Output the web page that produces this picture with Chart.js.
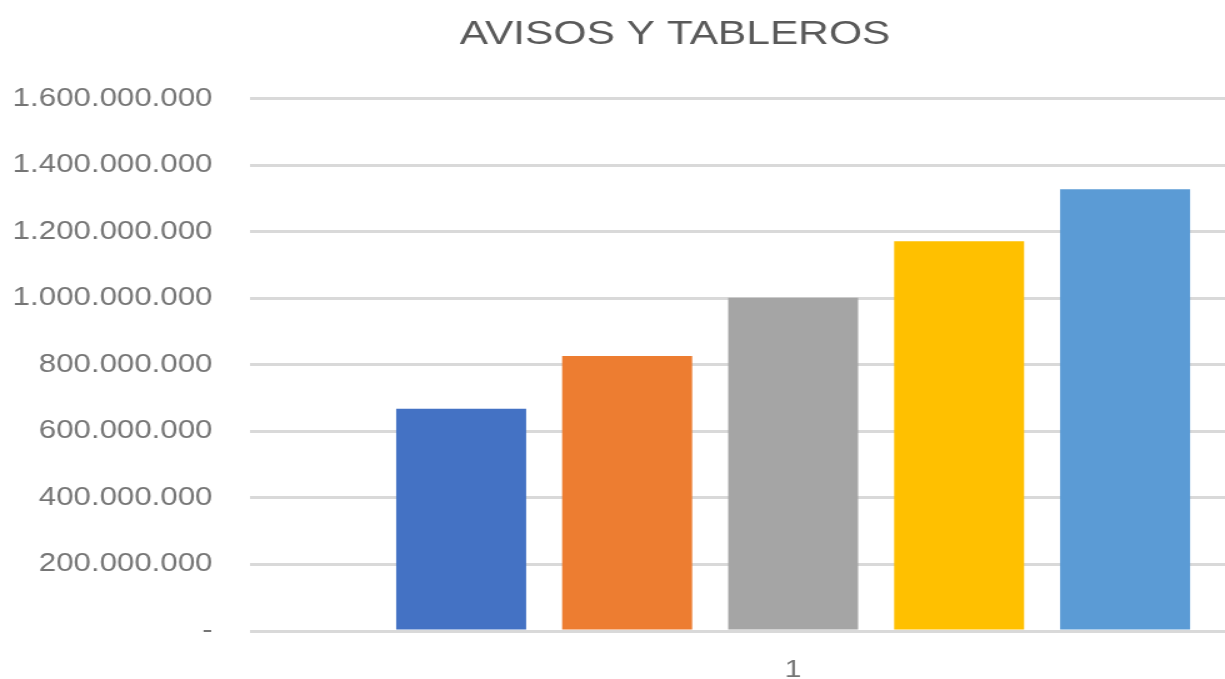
<!DOCTYPE html>
<html>
<head>
<meta charset="utf-8">
<script src="https://cdn.jsdelivr.net/npm/chart.js@4"></script>
<style>
  html, body { margin: 0; padding: 0; background: #fff; overflow: hidden; }
  /* the source picture is stretched sideways, so the chart is too */
  #wrap { width: 1080px; height: 690px; transform: scaleX(1.25); transform-origin: 0 0; }
</style>
</head>
<body>
<div id="wrap"><canvas id="chart"></canvas></div>
<script>
const categories = ['1'];
const seriesNames = ['Serie1', 'Serie2', 'Serie3', 'Serie4', 'Serie5'];
const seriesValues = [668000000, 827000000, 1002000000, 1172000000, 1328000000];
const seriesColors = ['#4472C4', '#ED7D31', '#A5A5A5', '#FFC000', '#5B9BD5'];
const yTicks = { min: 0, max: 1600000000, step: 200000000 };

const fmt = v => v === 0 ? '-' : v.toLocaleString('es-CO').replace(/,/g, '.');

new Chart(document.getElementById('chart').getContext('2d'), {
  type: 'bar',
  data: {
    labels: categories,
    datasets: seriesNames.map((name, i) => ({
      label: name,
      data: [seriesValues[i]],
      backgroundColor: seriesColors[i],
      borderWidth: 0,
      categoryPercentage: 0.764,
      barPercentage: 0.783
    }))
  },
  options: {
    responsive: true,
    maintainAspectRatio: false,
    animation: false,
    devicePixelRatio: 1,
    layout: { padding: { left: 11, right: 11, top: 0, bottom: 0 } },
    plugins: {
      legend: { display: false },
      tooltip: { enabled: false },
      title: {
        display: true,
        text: 'AVISOS Y TABLEROS',
        color: '#595959',
        font: { family: 'Liberation Sans', size: 34, weight: 'normal' },
        padding: { top: 14, bottom: 44 }
      }
    },
    scales: {
      x: {
        grid: { display: false },
        border: { display: false },
        ticks: { color: '#757575', font: { family: 'Liberation Sans', size: 24 }, padding: 17 },
        afterFit: s => { s.height = 59; }
      },
      y: {
        min: yTicks.min,
        max: yTicks.max,
        grid: { color: '#D9D9D9', lineWidth: 3, drawTicks: false },
        border: { display: false },
        ticks: {
          stepSize: yTicks.step,
          color: '#757575',
          font: { family: 'Liberation Sans', size: 25 },
          padding: 30,
          callback: v => fmt(v)
        },
        afterFit: s => { s.width = 189; }
      }
    }
  }
});
</script>
</body>
</html>
